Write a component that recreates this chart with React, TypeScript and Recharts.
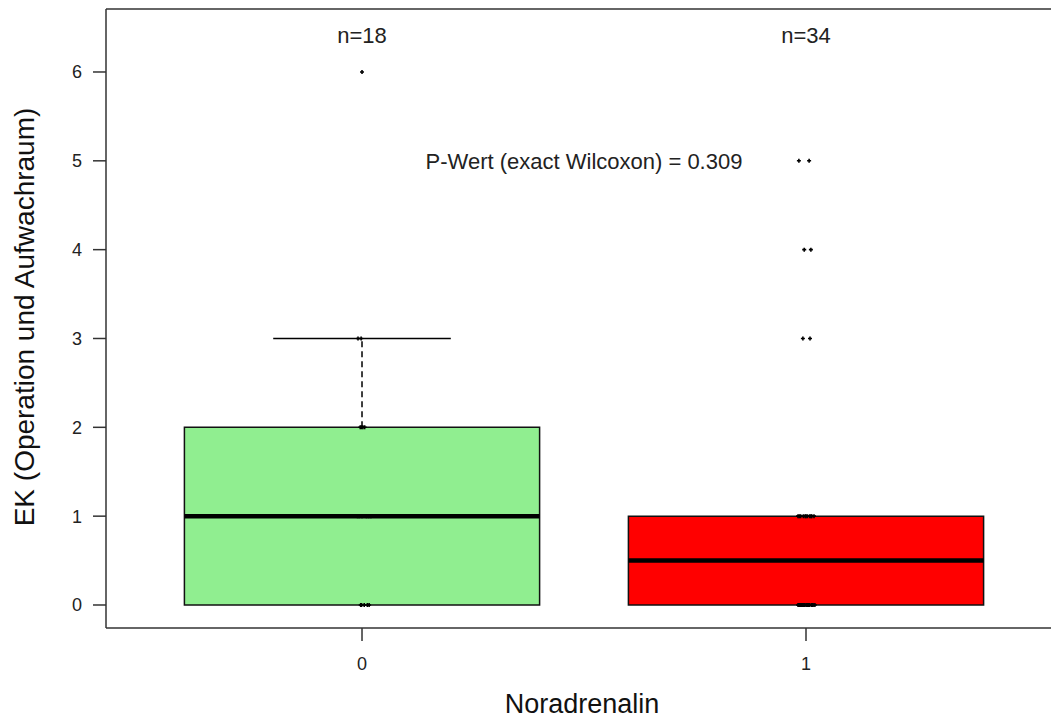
import React from 'react';
import {
  ComposedChart,
  XAxis,
  YAxis,
  Scatter,
  ReferenceArea,
  ReferenceLine,
  Label,
} from 'recharts';

// Groups (Noradrenalin 0 / 1) and their box statistics
const groups = [0, 1];
const boxLow = [0, 0];
const boxHigh = [2, 1];
const medians = [1, 0.5];
const whiskerHigh = [3, 1];
const boxColors = ['#90EE90', '#FF0000'];
const countLabels = ['n=18', 'n=34'];
const countLabelY = 6.42;
const pValueText = 'P-Wert (exact Wilcoxon) = 0.309';
const pValuePos = { x: 0.5, y: 5 };

// Individual observations (EK counts) with their horizontal jitter
const group0Values = [0, 0, 0, 0, 0, 1, 1, 1, 1, 1, 1, 2, 2, 2, 2, 3, 3, 6];
const group0Jitter = [-0.003, 0.016, 0.005, 0.012, -0.001, 0.01, -0.01, 0.02, 0.0, 0.015, -0.006, -0.001, 0.002, 0.006, -0.004, -0.009, -0.002, 0.0];
const group1Values = [
  0, 0, 0, 0, 0, 0, 0, 0, 0, 0, 0, 0, 0, 0, 0, 0, 0,
  1, 1, 1, 1, 1, 1, 1, 1, 1, 1, 1,
  3, 3, 4, 4, 5, 5,
];
const group1Jitter = [
  -0.018, -0.014, -0.01, -0.006, -0.003, 0.0, 0.004, 0.008, 0.012, 0.016, 0.02, -0.016, -0.008, 0.002, 0.006, 0.014, -0.012,
  -0.018, -0.012, -0.006, -0.002, 0.003, 0.008, 0.013, 0.018, -0.015, 0.0, 0.011,
  -0.007, 0.009, -0.004, 0.011, -0.016, 0.007,
];
const yTicks = [0, 1, 2, 3, 4, 5, 6];
const xTicks = [0, 1];

const points = [
  ...group0Values.map((v, i) => ({ x: groups[0] + group0Jitter[i], y: v })),
  ...group1Values.map((v, i) => ({ x: groups[1] + group1Jitter[i], y: v })),
];

const annotations = [
  ...groups.map((g, i) => ({ x: g, y: countLabelY, label: countLabels[i] })),
  { x: pValuePos.x, y: pValuePos.y, label: pValueText },
];

const FONT = '"Liberation Sans", Arial, Helvetica, sans-serif';
const INK = '#222';
const LINE = '#333';
const BOX_HALF = 0.4;
const CAP_HALF = 0.2;
const X_DOMAIN: [number, number] = [-0.5766, 1.5518];
const Y_DOMAIN: [number, number] = [-0.259, 6.709];

const PointMark = (props: any) => {
  const { cx, cy } = props;
  if (cx == null || cy == null) return <g />;
  return (
    <path
      d={`M${cx - 2},${cy} h4 M${cx},${cy - 2} v4`}
      stroke="#000"
      strokeWidth={1.6}
      fill="none"
    />
  );
};

const AnnotationText = (props: any) => {
  const { cx, cy, payload } = props;
  if (cx == null || cy == null) return <g />;
  return (
    <text
      x={cx}
      y={cy}
      dy="0.36em"
      textAnchor="middle"
      fontFamily={FONT}
      fontSize={22}
      fill={INK}
    >
      {payload.label}
    </text>
  );
};

export default function App() {
  return (
    <div style={{ position: 'absolute', left: 0, top: 0, width: 1051, height: 720, background: '#fff' }}>
      <ComposedChart
        width={1051}
        height={720}
        margin={{ top: 9, right: 0, bottom: 0, left: 0 }}
      >
        <XAxis
          dataKey="x"
          type="number"
          domain={X_DOMAIN}
          allowDataOverflow
          ticks={xTicks}
          interval={0}
          height={92}
          tickSize={13}
          tickMargin={16}
          stroke={LINE}
          strokeWidth={1.5}
          tick={{ fontFamily: FONT, fontSize: 18, fill: INK }}
        >
          <Label
            content={() => (
              <text x={582} y={713} textAnchor="middle" fontFamily={FONT} fontSize={27} fill="#111">
                Noradrenalin
              </text>
            )}
          />
        </XAxis>
        <YAxis
          dataKey="y"
          type="number"
          domain={Y_DOMAIN}
          allowDataOverflow
          ticks={yTicks}
          interval={0}
          width={106}
          tickSize={13}
          tickMargin={11}
          stroke={LINE}
          strokeWidth={1.5}
          tick={{ fontFamily: FONT, fontSize: 18, fill: INK }}
        >
          <Label
            content={() => (
              <text
                transform="translate(34,317) rotate(-90)"
                textAnchor="middle"
                fontFamily={FONT}
                fontSize={28}
                fill="#111"
              >
                EK (Operation und Aufwachraum)
              </text>
            )}
          />
        </YAxis>

        {/* top frame line */}
        <ReferenceLine y={Y_DOMAIN[1]} stroke={LINE} strokeWidth={1.5} ifOverflow="visible" />

        {/* whiskers (dashed) and caps */}
        {groups.map((g, i) =>
          whiskerHigh[i] > boxHigh[i] ? (
            <ReferenceLine
              key={`wh-${g}`}
              segment={[{ x: g, y: boxHigh[i] }, { x: g, y: whiskerHigh[i] }]}
              stroke="#000"
              strokeWidth={1.5}
              strokeDasharray="6 4"
            />
          ) : null
        )}
        {groups.map((g, i) =>
          whiskerHigh[i] > boxHigh[i] ? (
            <ReferenceLine
              key={`cap-${g}`}
              segment={[{ x: g - CAP_HALF, y: whiskerHigh[i] }, { x: g + CAP_HALF, y: whiskerHigh[i] }]}
              stroke="#000"
              strokeWidth={1.5}
            />
          ) : null
        )}

        {/* boxes */}
        {groups.map((g, i) => (
          <ReferenceArea
            key={`box-${g}`}
            x1={g - BOX_HALF}
            x2={g + BOX_HALF}
            y1={boxLow[i]}
            y2={boxHigh[i]}
            fill={boxColors[i]}
            fillOpacity={1}
            stroke="#111"
            strokeWidth={1.5}
          />
        ))}

        {/* medians */}
        {groups.map((g, i) => (
          <ReferenceLine
            key={`med-${g}`}
            segment={[{ x: g - BOX_HALF, y: medians[i] }, { x: g + BOX_HALF, y: medians[i] }]}
            stroke="#000"
            strokeWidth={4.5}
          />
        ))}

        <Scatter
          data={points}
          dataKey="y"
          shape={PointMark}
          isAnimationActive={false}
        />
        <Scatter
          data={annotations}
          dataKey="y"
          shape={AnnotationText}
          isAnimationActive={false}
        />
      </ComposedChart>
    </div>
  );
}
